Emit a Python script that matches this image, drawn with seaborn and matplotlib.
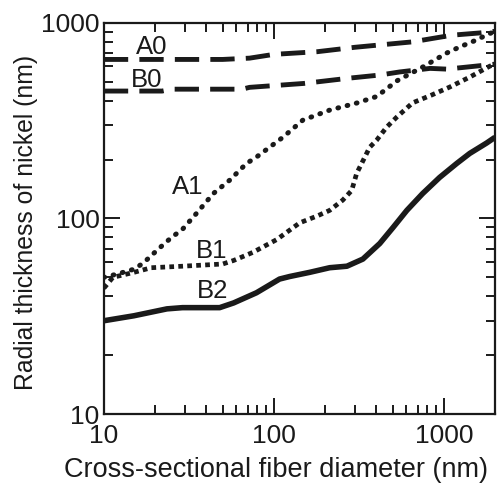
import matplotlib
matplotlib.use("Agg")
import matplotlib.pyplot as plt
import matplotlib.ticker as mticker
import seaborn as sns
import pandas as pd

# ---- data ----
A0_x = [10, 50, 72, 100, 180, 300, 420, 650, 900, 1120, 1630, 2000]
A0_y = [650, 650, 660, 690, 712, 750, 771, 799, 838, 865, 888, 905]

B0_x = [10, 22, 25, 65, 72, 150, 280, 420, 550, 830, 1040, 1360, 2000]
B0_y = [448, 448, 458, 458, 468, 490, 522, 541, 561, 585, 580, 594, 615]

A1_x = [10, 12, 15, 17, 21, 25, 29, 35, 44, 55, 69, 79, 113, 148, 213, 307,
        402, 461, 529, 750, 1040, 1240, 1560, 1785, 2000]
A1_y = [50, 52, 55, 59, 70, 80, 88, 106, 134, 157, 191, 206, 260, 318, 358, 389,
        420, 460, 505, 594, 701, 753, 818, 868, 905]

B1_x = [10, 11.3, 15, 19, 29, 50, 58, 75, 104, 142, 180, 213, 254, 287, 307,
        343, 366, 402, 461, 529, 655, 850, 1085, 1420, 1860, 2000]
B1_y = [44, 50, 53, 56, 57, 58.5, 61, 67, 78, 95, 103, 110, 124, 139, 170,
        206, 231, 251, 293, 330, 390, 428, 470, 528, 600, 615]

B2_x = [10, 15, 23.5, 29, 48, 58, 79, 108, 124, 162, 213, 269, 334, 420, 503,
        606, 750, 944, 1190, 1420, 1785, 2000]
B2_y = [30, 31.8, 34.5, 35, 35, 37, 41.7, 49, 50.5, 53, 56, 57, 62, 74.5, 90,
        110, 134, 162, 191, 215, 243, 260]

series_names = ["A0", "B0", "A1", "B1", "B2"]
label_x = [19.2, 17.9, 31.2, 43.2, 43.8]
label_y = [753, 510, 144, 68.5, 42.7]

x_ticks = [10, 100, 1000]
y_ticks = [10, 100, 1000]
x_label = "Cross-sectional fiber diameter (nm)"
y_label = "Radial thickness of nickel (nm)"

# ---- style ----
sns.set_style("ticks")
plt.rcParams["font.family"] = ["Liberation Sans", "DejaVu Sans"]

fig = plt.figure(figsize=(4.97, 4.86), dpi=100)
ax = fig.add_axes([0.209, 0.148, 0.787, 0.805])

series = {
    "A0": (A0_x, A0_y),
    "B0": (B0_x, B0_y),
    "A1": (A1_x, A1_y),
    "B1": (B1_x, B1_y),
    "B2": (B2_x, B2_y),
}
styles = {
    "A0": dict(lw=3.5, linestyle=(0, (5, 2.3)), dash_capstyle="butt"),
    "B0": dict(lw=3.5, linestyle=(0, (5, 2.3)), dash_capstyle="butt"),
    "A1": dict(lw=3.6, linestyle=(0, (0.15, 1.75)), dash_capstyle="round"),
    "B1": dict(lw=3.4, linestyle=(0, (1.0, 0.9)), dash_capstyle="butt"),
    "B2": dict(lw=4.0, linestyle="-", solid_capstyle="butt"),
}
for name in series_names:
    xs, ys = series[name]
    df = pd.DataFrame({"x": xs, "y": ys})
    sns.lineplot(data=df, x="x", y="y", ax=ax, color="#1a1a1a",
                 sort=False, estimator=None, **styles[name])

ax.set_xscale("log")
ax.set_yscale("log")
ax.set_xlim(10, 2000)
ax.set_ylim(10, 1000)

for name, lx, ly in zip(series_names, label_x, label_y):
    ax.text(lx, ly, name, fontsize=18.5, ha="center", va="center", color="#1a1a1a")

ax.xaxis.set_major_locator(mticker.FixedLocator(x_ticks))
ax.yaxis.set_major_locator(mticker.FixedLocator(y_ticks))
ax.xaxis.set_major_formatter(mticker.FixedFormatter([str(v) for v in x_ticks]))
ax.yaxis.set_major_formatter(mticker.FixedFormatter([str(v) for v in y_ticks]))
ax.xaxis.set_minor_locator(mticker.LogLocator(base=10, subs=range(2, 10)))
ax.yaxis.set_minor_locator(mticker.LogLocator(base=10, subs=range(2, 10)))
ax.xaxis.set_minor_formatter(mticker.NullFormatter())
ax.yaxis.set_minor_formatter(mticker.NullFormatter())

for s in ax.spines.values():
    s.set_linewidth(1.6)
    s.set_color("#1a1a1a")
    s.set_visible(True)

ax.tick_params(which="both", direction="in", top=True, right=True,
               color="#1a1a1a", width=1.4, labelsize=19, labelcolor="#1a1a1a")
ax.tick_params(which="major", length=11.5)
ax.tick_params(which="minor", length=6.5)
ax.tick_params(axis="x", which="major", pad=7)
ax.tick_params(axis="y", which="major", pad=3)

ax.set_xlabel(x_label, fontsize=19.5, color="#1a1a1a")
ax.set_ylabel(y_label, fontsize=17.8, color="#1a1a1a")
ax.xaxis.set_label_coords(0.441, -0.11)
ax.yaxis.set_label_coords(-0.168, 0.49)

fig.savefig("out.png", dpi=100)
